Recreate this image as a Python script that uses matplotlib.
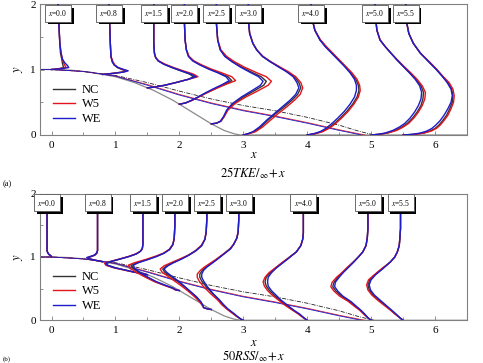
# profiles of TKE and RSS over the hill, three wall models

import numpy as np
import matplotlib.pyplot as plt
import matplotlib.patheffects as pe
from matplotlib.ticker import MultipleLocator

plt.rcParams["font.family"] = ["Liberation Serif", "DejaVu Serif"]
plt.rcParams["mathtext.fontset"] = "stix"


# Hill surface

hill_x = [-0.2, 0.0, 0.3, 0.6, 0.8, 1.0, 1.3, 1.5, 1.6, 1.9, 2.0, 2.2, 2.5, 2.7, 2.85, 2.95, 6.6]
hill_y = [1.0, 1.0, 0.99, 0.96, 0.925, 0.89, 0.80, 0.72, 0.68, 0.53, 0.47, 0.35, 0.17, 0.07, 0.02, 0.0, 0.0]

# Dividing streamlines

sep_x_nc = [-0.2, 0.0, 0.5, 1.0, 1.5, 2.0, 2.5, 3.0, 3.5, 4.0, 4.5, 4.8, 5.05]
sep_y_nc = [1.0, 1.0, 0.97, 0.91, 0.80, 0.67, 0.55, 0.45, 0.37, 0.27, 0.15, 0.06, 0.0]
sep_x_w5 = [-0.2, 0.0, 0.5, 1.0, 1.5, 2.0, 2.5, 3.0, 3.5, 4.0, 4.5, 4.9]
sep_y_w5 = [1.0, 1.0, 0.97, 0.90, 0.77, 0.62, 0.49, 0.38, 0.29, 0.19, 0.08, 0.0]
sep_x_we = [-0.2, 0.0, 0.5, 1.0, 1.5, 2.0, 2.5, 3.0, 3.5, 4.0, 4.5, 4.85]
sep_y_we = [1.0, 1.0, 0.97, 0.90, 0.76, 0.61, 0.48, 0.37, 0.28, 0.18, 0.07, 0.0]

stations = [0.0, 0.8, 1.5, 2.0, 2.5, 3.0, 4.0, 5.0, 5.5]
cases = ["NC", "W5", "WE"]


# 25 TKE profiles (offset from station x)

tke_y = [
    [1.00, 1.01, 1.03, 1.06, 1.10, 1.16, 1.25, 1.40, 1.60, 1.80, 2.00],
    [0.925, 0.94, 0.96, 0.98, 1.00, 1.03, 1.07, 1.12, 1.20, 1.40, 1.70, 2.00],
    [0.72, 0.73, 0.76, 0.80, 0.85, 0.89, 0.93, 0.98, 1.03, 1.08, 1.13, 1.18, 1.25, 1.40, 1.70, 2.00],
    [0.47, 0.49, 0.53, 0.58, 0.64, 0.70, 0.77, 0.83, 0.89, 0.95, 1.01, 1.07, 1.13, 1.20, 1.30, 1.45, 1.70, 2.00],
    [0.17, 0.18, 0.21, 0.28, 0.38, 0.48, 0.58, 0.68, 0.76, 0.82, 0.89, 0.96, 1.04, 1.12, 1.20, 1.30, 1.45, 1.70, 2.00],
    [0.00, 0.02, 0.05, 0.12, 0.23, 0.33, 0.43, 0.53, 0.62, 0.72, 0.80, 0.89, 0.97, 1.04, 1.12, 1.20, 1.30, 1.40, 1.55, 1.75, 2.00],
    [0.00, 0.02, 0.05, 0.10, 0.17, 0.26, 0.36, 0.47, 0.58, 0.68, 0.76, 0.85, 0.95, 1.05, 1.15, 1.25, 1.35, 1.45, 1.60, 1.80, 2.00],
    [0.00, 0.01, 0.03, 0.07, 0.12, 0.18, 0.26, 0.35, 0.45, 0.55, 0.65, 0.75, 0.85, 0.95, 1.05, 1.15, 1.25, 1.35, 1.45, 1.60, 1.80, 2.00],
    [0.00, 0.01, 0.03, 0.06, 0.10, 0.15, 0.22, 0.30, 0.40, 0.50, 0.60, 0.70, 0.80, 0.90, 1.00, 1.10, 1.25, 1.40, 1.55, 1.75, 2.00],
]
tke_nc = [
    [0, 0.10, 0.19, 0.18, 0.17, 0.16, 0.14, 0.13, 0.12, 0.11, 0.10],
    [0, 0.15, 0.30, 0.36, 0.30, 0.23, 0.18, 0.15, 0.13, 0.12, 0.11, 0.10],
    [0, 0.10, 0.28, 0.45, 0.64, 0.72, 0.66, 0.52, 0.38, 0.26, 0.17, 0.13, 0.11, 0.10, 0.10, 0.10],
    [0, 0.10, 0.20, 0.30, 0.42, 0.55, 0.70, 0.82, 0.76, 0.62, 0.46, 0.33, 0.22, 0.15, 0.11, 0.09, 0.08, 0.08],
    [0, 0.08, 0.15, 0.20, 0.25, 0.35, 0.50, 0.68, 0.82, 0.86, 0.78, 0.63, 0.47, 0.33, 0.22, 0.14, 0.10, 0.08, 0.08],
    [0, 0.08, 0.17, 0.27, 0.39, 0.51, 0.64, 0.76, 0.85, 0.90, 0.87, 0.80, 0.68, 0.56, 0.42, 0.30, 0.21, 0.15, 0.10, 0.08, 0.08],
    [0, 0.12, 0.22, 0.32, 0.42, 0.52, 0.62, 0.71, 0.78, 0.81, 0.80, 0.76, 0.68, 0.59, 0.49, 0.39, 0.29, 0.20, 0.12, 0.07, 0.06],
    [0, 0.12, 0.25, 0.38, 0.48, 0.57, 0.65, 0.72, 0.78, 0.81, 0.82, 0.78, 0.70, 0.60, 0.50, 0.40, 0.31, 0.22, 0.14, 0.09, 0.07, 0.06],
    [0, 0.18, 0.32, 0.42, 0.50, 0.56, 0.62, 0.68, 0.73, 0.77, 0.78, 0.76, 0.70, 0.61, 0.52, 0.42, 0.27, 0.16, 0.09, 0.05, 0.04],
]
tke_w5 = [
    [0, 0.12, 0.23, 0.21, 0.19, 0.17, 0.15, 0.13, 0.12, 0.11, 0.10],
    [0, 0.15, 0.31, 0.38, 0.32, 0.24, 0.19, 0.16, 0.13, 0.12, 0.11, 0.10],
    [0, 0.10, 0.27, 0.44, 0.64, 0.79, 0.72, 0.56, 0.41, 0.28, 0.18, 0.13, 0.11, 0.10, 0.10, 0.10],
    [0, 0.10, 0.20, 0.30, 0.42, 0.55, 0.72, 0.88, 0.82, 0.66, 0.49, 0.35, 0.23, 0.15, 0.11, 0.09, 0.08, 0.08],
    [0, 0.08, 0.15, 0.20, 0.26, 0.37, 0.54, 0.74, 0.89, 0.94, 0.86, 0.69, 0.51, 0.36, 0.24, 0.15, 0.10, 0.08, 0.08],
    [0, 0.09, 0.19, 0.30, 0.43, 0.55, 0.68, 0.80, 0.89, 0.93, 0.90, 0.82, 0.70, 0.57, 0.43, 0.31, 0.21, 0.15, 0.10, 0.08, 0.08],
    [0, 0.13, 0.24, 0.34, 0.44, 0.54, 0.64, 0.73, 0.80, 0.83, 0.82, 0.78, 0.70, 0.60, 0.50, 0.40, 0.30, 0.21, 0.12, 0.07, 0.06],
    [0, 0.12, 0.26, 0.40, 0.50, 0.59, 0.67, 0.74, 0.80, 0.84, 0.85, 0.80, 0.72, 0.62, 0.51, 0.41, 0.31, 0.22, 0.14, 0.09, 0.07, 0.06],
    [0, 0.18, 0.33, 0.44, 0.52, 0.58, 0.64, 0.70, 0.75, 0.79, 0.80, 0.78, 0.72, 0.62, 0.53, 0.43, 0.27, 0.16, 0.09, 0.05, 0.04],
]
tke_we = [
    [0, 0.14, 0.27, 0.25, 0.21, 0.17, 0.15, 0.13, 0.12, 0.11, 0.10],
    [0, 0.16, 0.33, 0.40, 0.33, 0.24, 0.18, 0.15, 0.13, 0.12, 0.11, 0.10],
    [0, 0.10, 0.27, 0.44, 0.64, 0.76, 0.68, 0.53, 0.39, 0.26, 0.17, 0.13, 0.11, 0.10, 0.10, 0.10],
    [0, 0.10, 0.19, 0.29, 0.40, 0.52, 0.67, 0.78, 0.73, 0.60, 0.45, 0.32, 0.21, 0.14, 0.11, 0.09, 0.08, 0.08],
    [0, 0.08, 0.14, 0.19, 0.24, 0.33, 0.47, 0.64, 0.77, 0.81, 0.74, 0.60, 0.45, 0.32, 0.21, 0.14, 0.10, 0.08, 0.08],
    [0, 0.07, 0.15, 0.25, 0.37, 0.49, 0.61, 0.73, 0.82, 0.87, 0.84, 0.78, 0.67, 0.55, 0.42, 0.30, 0.21, 0.15, 0.10, 0.08, 0.08],
    [0, 0.10, 0.20, 0.29, 0.38, 0.48, 0.58, 0.67, 0.74, 0.77, 0.77, 0.74, 0.67, 0.58, 0.48, 0.38, 0.28, 0.20, 0.12, 0.07, 0.06],
    [0, 0.10, 0.22, 0.34, 0.44, 0.53, 0.61, 0.68, 0.74, 0.78, 0.79, 0.76, 0.69, 0.60, 0.50, 0.40, 0.31, 0.22, 0.14, 0.09, 0.07, 0.06],
    [0, 0.14, 0.27, 0.37, 0.45, 0.51, 0.58, 0.64, 0.70, 0.75, 0.77, 0.75, 0.69, 0.61, 0.52, 0.42, 0.27, 0.16, 0.09, 0.05, 0.04],
]


# 50 RSS profiles (offset from station x)

rss_y = [
    [1.00, 1.02, 1.04, 1.07, 1.10, 1.15, 1.25, 1.50, 2.00],
    [0.925, 0.95, 0.97, 0.99, 1.01, 1.03, 1.06, 1.10, 1.20, 1.50, 2.00],
    [0.72, 0.74, 0.76, 0.79, 0.83, 0.87, 0.90, 0.93, 0.97, 1.01, 1.05, 1.09, 1.13, 1.20, 1.40, 2.00],
    [0.47, 0.48, 0.51, 0.55, 0.61, 0.68, 0.75, 0.82, 0.87, 0.91, 0.96, 1.01, 1.06, 1.12, 1.20, 1.30, 1.50, 2.00],
    [0.17, 0.18, 0.20, 0.23, 0.29, 0.37, 0.45, 0.53, 0.61, 0.69, 0.76, 0.81, 0.86, 0.91, 0.97, 1.03, 1.10, 1.18, 1.28, 1.40, 1.60, 2.00],
    [0.00, 0.02, 0.06, 0.11, 0.18, 0.25, 0.32, 0.42, 0.53, 0.62, 0.68, 0.73, 0.79, 0.84, 0.90, 0.96, 1.05, 1.13, 1.20, 1.30, 1.40, 1.60, 2.00],
    [0.00, 0.04, 0.10, 0.16, 0.24, 0.32, 0.40, 0.47, 0.54, 0.61, 0.68, 0.75, 0.82, 0.90, 0.98, 1.08, 1.18, 1.28, 1.38, 1.50, 1.70, 2.00],
    [0.00, 0.04, 0.10, 0.16, 0.22, 0.30, 0.38, 0.46, 0.53, 0.60, 0.68, 0.76, 0.84, 0.92, 1.00, 1.08, 1.18, 1.30, 1.45, 1.70, 2.00],
    [0.00, 0.04, 0.10, 0.17, 0.24, 0.32, 0.40, 0.48, 0.56, 0.64, 0.72, 0.82, 0.92, 1.00, 1.08, 1.18, 1.30, 1.45, 1.70, 2.00],
]
rss_nc = [
    [0, -0.01, -0.04, -0.06, -0.07, -0.07, -0.07, -0.07, -0.07],
    [0, -0.12, -0.20, -0.22, -0.17, -0.12, -0.09, -0.08, -0.08, -0.08, -0.08],
    [0, -0.08, -0.20, -0.33, -0.50, -0.62, -0.64, -0.56, -0.42, -0.28, -0.17, -0.11, -0.08, -0.07, -0.07, -0.07],
    [0, -0.06, -0.11, -0.22, -0.37, -0.50, -0.62, -0.72, -0.75, -0.66, -0.50, -0.36, -0.24, -0.15, -0.10, -0.08, -0.07, -0.07],
    [0, -0.06, -0.12, -0.13, -0.17, -0.24, -0.33, -0.42, -0.52, -0.63, -0.73, -0.76, -0.70, -0.60, -0.47, -0.35, -0.24, -0.15, -0.10, -0.08, -0.07, -0.07],
    [0, -0.04, -0.10, -0.16, -0.25, -0.32, -0.38, -0.48, -0.58, -0.65, -0.68, -0.68, -0.64, -0.58, -0.50, -0.42, -0.30, -0.20, -0.15, -0.10, -0.08, -0.07, -0.07],
    [0, -0.06, -0.13, -0.22, -0.33, -0.43, -0.52, -0.59, -0.64, -0.66, -0.64, -0.58, -0.50, -0.40, -0.30, -0.17, -0.10, -0.07, -0.06, -0.06, -0.06, -0.06],
    [0, -0.05, -0.11, -0.17, -0.24, -0.34, -0.46, -0.55, -0.60, -0.58, -0.52, -0.44, -0.36, -0.28, -0.20, -0.13, -0.08, -0.06, -0.05, -0.05, -0.05],
    [0, -0.05, -0.12, -0.20, -0.28, -0.38, -0.47, -0.53, -0.55, -0.52, -0.44, -0.32, -0.20, -0.13, -0.09, -0.06, -0.05, -0.04, -0.04, -0.04],
]
rss_w5 = [
    [0, -0.01, -0.04, -0.06, -0.07, -0.07, -0.07, -0.07, -0.07],
    [0, -0.12, -0.21, -0.24, -0.18, -0.12, -0.09, -0.08, -0.08, -0.08, -0.08],
    [0, -0.08, -0.21, -0.35, -0.53, -0.65, -0.67, -0.58, -0.43, -0.29, -0.18, -0.11, -0.08, -0.07, -0.07, -0.07],
    [0, -0.06, -0.12, -0.23, -0.39, -0.53, -0.66, -0.77, -0.80, -0.70, -0.53, -0.38, -0.25, -0.16, -0.10, -0.08, -0.07, -0.07],
    [0, -0.06, -0.12, -0.14, -0.18, -0.26, -0.35, -0.45, -0.56, -0.67, -0.77, -0.80, -0.74, -0.63, -0.49, -0.36, -0.25, -0.16, -0.10, -0.08, -0.07, -0.07],
    [0, -0.04, -0.10, -0.17, -0.26, -0.34, -0.40, -0.51, -0.62, -0.69, -0.72, -0.72, -0.67, -0.61, -0.52, -0.43, -0.31, -0.21, -0.15, -0.10, -0.08, -0.07, -0.07],
    [0, -0.06, -0.14, -0.23, -0.35, -0.45, -0.55, -0.62, -0.67, -0.69, -0.66, -0.60, -0.51, -0.41, -0.30, -0.17, -0.10, -0.07, -0.06, -0.06, -0.06, -0.06],
    [0, -0.05, -0.12, -0.18, -0.26, -0.36, -0.49, -0.58, -0.63, -0.61, -0.54, -0.45, -0.37, -0.28, -0.20, -0.13, -0.08, -0.06, -0.05, -0.05, -0.05],
    [0, -0.05, -0.13, -0.21, -0.30, -0.40, -0.49, -0.55, -0.57, -0.54, -0.45, -0.33, -0.20, -0.13, -0.09, -0.06, -0.05, -0.04, -0.04, -0.04],
]
rss_we = [
    [0, -0.01, -0.04, -0.06, -0.07, -0.07, -0.07, -0.07, -0.07],
    [0, -0.12, -0.21, -0.25, -0.19, -0.13, -0.10, -0.08, -0.08, -0.08, -0.08],
    [0, -0.08, -0.20, -0.33, -0.51, -0.63, -0.65, -0.57, -0.42, -0.28, -0.17, -0.11, -0.08, -0.07, -0.07, -0.07],
    [0, -0.05, -0.10, -0.21, -0.36, -0.49, -0.61, -0.70, -0.72, -0.64, -0.49, -0.35, -0.24, -0.15, -0.10, -0.08, -0.07, -0.07],
    [0, -0.06, -0.12, -0.13, -0.16, -0.23, -0.32, -0.41, -0.50, -0.61, -0.70, -0.74, -0.68, -0.59, -0.46, -0.35, -0.24, -0.15, -0.10, -0.08, -0.07, -0.07],
    [0, -0.04, -0.09, -0.15, -0.24, -0.31, -0.37, -0.47, -0.56, -0.62, -0.65, -0.65, -0.62, -0.57, -0.49, -0.41, -0.30, -0.20, -0.15, -0.10, -0.08, -0.07, -0.07],
    [0, -0.05, -0.12, -0.21, -0.31, -0.41, -0.49, -0.56, -0.61, -0.62, -0.61, -0.56, -0.49, -0.39, -0.29, -0.17, -0.10, -0.07, -0.06, -0.06, -0.06, -0.06],
    [0, -0.05, -0.10, -0.16, -0.23, -0.32, -0.44, -0.52, -0.57, -0.56, -0.50, -0.43, -0.35, -0.27, -0.20, -0.13, -0.08, -0.06, -0.05, -0.05, -0.05],
    [0, -0.05, -0.11, -0.19, -0.27, -0.36, -0.45, -0.51, -0.53, -0.50, -0.43, -0.31, -0.20, -0.13, -0.09, -0.06, -0.05, -0.04, -0.04, -0.04],
]


colors = {"NC": "#333333", "W5": "#e3141b", "WE": "#1c1ccc"}
spine_col = "#808080"


def draw_panel(ax, prof_y, prof_cases):
    ax.plot(hill_x, hill_y, color="#8a8a8a", lw=0.9, zorder=1)
    ax.plot(sep_x_nc, sep_y_nc, color="#222222", lw=0.6, ls=(0, (5, 1.5, 1, 1.5)), zorder=2)
    ax.plot(sep_x_w5, sep_y_w5, color=colors["W5"], lw=0.6, zorder=2)
    ax.plot(sep_x_we, sep_y_we, color=colors["WE"], lw=0.6, zorder=2)

    for i, x0 in enumerate(stations):
        y = np.array(prof_y[i])
        for name, prof in zip(cases, prof_cases):
            ax.plot(x0 + np.array(prof[i]), y, color=colors[name], lw=1.0,
                    label=name if i == 0 else None, zorder=3)
        # station tag
        t = ax.text(x0 + prof_cases[0][i][-1], 1.86, rf"$x$={x0:.1f}",
                    fontsize=5.5, ha="center", va="center", zorder=6,
                    bbox=dict(boxstyle="square,pad=0.45", fc="white", ec="#555555", lw=0.6))
        t.get_bbox_patch().set_path_effects(
            [pe.withSimplePatchShadow(offset=(2.0, -2.0), shadow_rgbFace="black", alpha=1.0)])

    ax.set_xlim(-0.18, 6.5)
    ax.set_ylim(0, 2)
    ax.set_xticks(range(7))
    ax.set_yticks([0, 1, 2])
    ax.xaxis.set_minor_locator(MultipleLocator(0.5))
    ax.yaxis.set_minor_locator(MultipleLocator(0.5))
    ax.tick_params(which="both", direction="in", color=spine_col, width=0.6,
                   labelsize=8, top=False, right=False)
    ax.tick_params(which="major", length=3, pad=4)
    ax.tick_params(which="minor", length=2)
    ax.tick_params(axis="y", pad=3)
    for s in ax.spines.values():
        s.set_color(spine_col)
        s.set_linewidth(0.8)

    ax.set_ylabel(r"$y$", fontsize=9, labelpad=0)
    ax.yaxis.set_label_coords(-0.036, 0.5)

    ax.legend(loc="upper left", bbox_to_anchor=(0.03, 0.39), frameon=False,
              fontsize=9, handlelength=1.8, handletextpad=0.5,
              labelspacing=0.2, borderpad=0, borderaxespad=0)


fig = plt.figure(figsize=(4.83, 3.63), dpi=100)
W, H = 483.0, 363.0

ax1 = fig.add_axes([40 / W, 1 - 135 / H, 427 / W, 131 / H])
draw_panel(ax1, tke_y, [tke_nc, tke_w5, tke_we])

ax2 = fig.add_axes([40 / W, 1 - 320.3 / H, 427 / W, 126.6 / H])
draw_panel(ax2, rss_y, [rss_nc, rss_w5, rss_we])

cx = 253.5 / W
fig.text(cx, 1 - 155 / H, r"$x$", fontsize=9, ha="center", va="center")
fig.text(cx, 1 - 173 / H, r"$25TKE/_{\infty}\!+x$", fontsize=9, ha="center", va="center")
fig.text(cx, 1 - 342.5 / H, r"$x$", fontsize=9, ha="center", va="center")
fig.text(cx, 1 - 356.5 / H, r"$50RSS/_{\infty}\!+x$", fontsize=9, ha="center", va="center")
fig.text(3 / W, 1 - 184 / H, "(a)", fontsize=6, ha="left", va="center")
fig.text(3 / W, 1 / H, "(b)", fontsize=5, ha="left", va="bottom")

plt.savefig("out.png", dpi=100)
